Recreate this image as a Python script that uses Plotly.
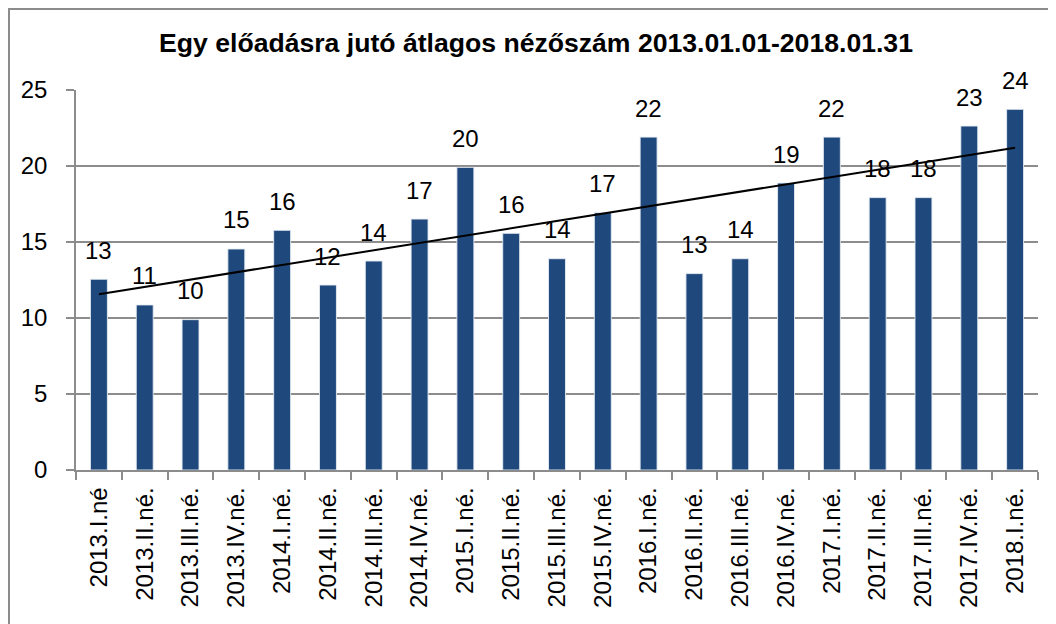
import numpy as np
import plotly.graph_objects as go

categories = ["2013.I.né", "2013.II.né.", "2013.III.né.", "2013.IV.né.",
              "2014.I.né.", "2014.II.né.", "2014.III.né.", "2014.IV.né.",
              "2015.I.né.", "2015.II.né.", "2015.III.né.", "2015.IV.né.",
              "2016.I.né.", "2016.II.né.", "2016.III.né.", "2016.IV.né.",
              "2017.I.né.", "2017.II.né.", "2017.III.né.", "2017.IV.né.",
              "2018.I.né."]
values = [12.55, 10.86, 9.89, 14.54, 15.77, 12.17, 13.75, 16.51, 19.91, 15.57,
          13.9, 16.93, 21.9, 12.92, 13.9, 18.88, 21.9, 17.92, 17.92, 22.63, 23.73]
labels = ["13", "11", "10", "15", "16", "12", "14", "17", "20", "16",
          "14", "17", "22", "13", "14", "19", "22", "18", "18", "23", "24"]

title_text = "Egy előadásra jutó átlagos nézőszám 2013.01.01-2018.01.31"
FONT = "Liberation Sans, Arial, sans-serif"
GRID = "#8c8c8c"

# linear trendline (least squares, as the spreadsheet trendline)
xi = np.arange(len(values))
slope, intercept = np.polyfit(xi, values, 1)
trend = slope * xi + intercept

fig = go.Figure()
fig.add_trace(go.Bar(
    x=categories, y=values,
    marker=dict(color="#1f497d", line=dict(color="rgba(230,235,242,0.9)", width=1)),
    hoverinfo="x+y", showlegend=False,
))
fig.add_trace(go.Scatter(
    x=categories, y=trend, mode="lines",
    line=dict(color="black", width=2), showlegend=False, hoverinfo="skip",
))

for c, v, t in zip(categories, values, labels):
    fig.add_annotation(x=c, y=v, text=t, showarrow=False, xref="x", yref="y",
                       yanchor="middle", yshift=29,
                       font=dict(family=FONT, size=24, color="black"))

OFF = 8  # page body margin of the browser
W, H = 1056, 624
L, R, T, B = 76 - OFF, 1038 - OFF, 90 - OFF, 470 - OFF
pw, ph = R - L, B - T

# outer chart frame (only top and left visible)
fig.add_shape(type="rect", xref="paper", yref="paper",
              x0=(1 - L) / pw, x1=(1080 - L) / pw,
              y0=(B - 660) / ph, y1=(B - 1) / ph,
              line=dict(color="#8c8c8c", width=2), fillcolor="rgba(0,0,0,0)", layer="below")

fig.update_layout(
    width=W, height=H,
    margin=dict(l=L, r=W - R, t=T, b=H - B, autoexpand=False),
    paper_bgcolor="white", plot_bgcolor="white",
    bargap=0.63,
    title=dict(text="<b>" + title_text + "</b>", x=(536 - OFF) / W, xanchor="center",
               y=1 - (43 - OFF) / H, yanchor="middle", xref="container", yref="container",
               font=dict(family=FONT, size=26.6, color="black")),
    font=dict(family=FONT, color="black"),
)
fig.update_xaxes(
    type="category", tickangle=-90, tickson="boundaries",
    ticks="outside", ticklen=8, tickcolor=GRID, tickwidth=1.5,
    showline=True, linecolor=GRID, linewidth=1.5,
    showgrid=False, tickfont=dict(family=FONT, size=24, color="black"),
    ticklabelstandoff=6,
)
fig.update_yaxes(
    range=[0, 25], dtick=5, tick0=0,
    showgrid=True, gridcolor=GRID, gridwidth=1.5,
    ticks="outside", ticklen=8, tickcolor=GRID, tickwidth=1.5,
    showline=True, linecolor=GRID, linewidth=1.5,
    zeroline=False,
    tickfont=dict(family=FONT, size=24, color="black"),
    ticklabelstandoff=14,
)

fig.write_html("out.html")
